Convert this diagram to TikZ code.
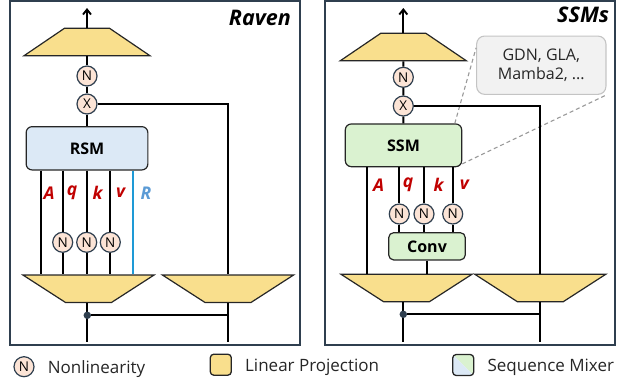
\documentclass[tikz,border=0pt]{standalone}
\usepackage{fontspec}
\setmainfont{Open Sans}
\usetikzlibrary{arrows.meta,positioning,calc,shapes.geometric}
\definecolor{Edge}{HTML}{2F3F4F}
\definecolor{Ink}{HTML}{262626}
\definecolor{Gold}{HTML}{F9DF8D}
\definecolor{Peach}{HTML}{FCE4D6}
\definecolor{RsmFill}{HTML}{DCE9F6}
\definecolor{SsmFill}{HTML}{DAF2D0}
\definecolor{Gate}{HTML}{C00000}
\definecolor{Retain}{HTML}{5B9BD5}
\definecolor{RetainLine}{HTML}{1E9AD6}
\definecolor{NoteFill}{HTML}{F2F2F2}
\definecolor{NoteEdge}{HTML}{C4C4C4}
\tikzset{
  panel/.style={draw=Edge,line width=1.5pt},
  wire/.style={draw=black,line width=1.9pt},
  proj/.style={trapezium,trapezium angle=48,trapezium stretches=true,draw=Ink,fill=Gold,line width=1.2pt,minimum width=126pt,minimum height=27.5pt,inner sep=1pt},
  projdown/.style={proj,trapezium angle=47,minimum width=131pt,shape border rotate=180},
  nl/.style={circle,draw=Edge,fill=Peach,line width=1.2pt,minimum size=20pt,inner sep=0pt,font=\fontsize{13.5}{14}\selectfont},
  mixer/.style={draw=Ink,rounded corners=6pt,line width=1.2pt,font=\fontsize{16}{18}\selectfont\bfseries},
  lbl/.style={font=\fontsize{17.5}{18}\selectfont\bfseries\itshape,text=Gate,inner sep=0pt},
  title/.style={font=\fontsize{21.5}{24}\selectfont\bfseries\itshape,anchor=east,inner sep=0pt},
  note/.style={draw=NoteEdge,fill=NoteFill,rounded corners=8pt,line width=1.1pt,align=center,text=Ink,font=\fontsize{16}{19.5}\selectfont},
  callout/.style={draw=black!40,line width=1.1pt,dash pattern=on 4pt off 3pt},
  joint/.style={circle,fill=Edge,inner sep=0pt,minimum size=7.5pt},
  legbox/.style={draw=Ink,line width=1.3pt,rounded corners=3.5pt,minimum width=21pt,minimum height=21pt,inner sep=0pt},
  legend/.style={font=\fontsize{17}{20}\selectfont,inner sep=0pt,text=Ink,yshift=-2.5pt},
  up/.style={wire,-{Straight Barb[length=5pt,width=8pt]}}
}
\begin{document}
\begin{tikzpicture}[x=1pt,y=-1pt]
\useasboundingbox (0,0) rectangle (632,381);

% Raven block
\draw[panel] (10,1) rectangle (300,345);
\node[title] (ravenT) at (291,17.5) {Raven};
\node[proj] (outL) at (87,42) {};
\coordinate (topL) at (87,8);
\node[nl] (nL) at (87,76) {N};
\node[nl] (xL) at (87,104) {X};
\node[mixer,fill=RsmFill,minimum width=121.7pt,minimum height=43.3pt] (rsm) at (87,148.3) {RSM};
\node[projdown] (projL) at (88.5,288.8) {};
\node[projdown] (gateL) at (228,288.8) {};
\draw[up] (outL.north) -- (topL);
\draw[wire] (outL) -- (nL) -- (xL) -- (rsm);
\draw[wire] (xL) -| (gateL);
\foreach \nm/\x in {A/40.7,q/62.7,k/86.7,v/110.3,R/133.3}
  \coordinate (w\nm L) at (\x,170);
\draw[wire] (rsm.south -| wAL) -- (wAL |- projL.north);
\draw[wire,draw=RetainLine] (rsm.south -| wRL) -- (wRL |- projL.north);
\foreach \nm in {q,k,v}{
  \node[nl] (n\nm L) at (w\nm L |- 0,242.3) {N};
  \draw[wire] (rsm.south -| n\nm L) -- (n\nm L) -- (n\nm L |- projL.north);
}
\node[lbl] (aL) at (49.2,193) {A};
\node[lbl] (qL) at (72,193) {q};
\node[lbl] (kL) at (97.5,193) {k};
\node[lbl] (vL) at (120.5,193) {v};
\node[lbl,text=Retain] (rL) at (146,193) {R};
\coordinate (inL) at (87.3,341.7);
\draw[wire] (inL) -- (inL |- projL.south);
\draw[wire] (gateL.south) -- (gateL.south |- inL);
\node[joint] (jL) at (87.3,315.3) {};
\draw[wire] (jL) -- (jL -| gateL);

% SSM block
\draw[panel] (325,1) rectangle (615,345);
\node[title] (ssmT) at (609.3,15.3) {SSMs};
\node[proj] (outR) at (403.3,47) {};
\coordinate (topR) at (403.3,8);
\node[nl] (nR) at (403.3,77.3) {N};
\node[nl] (xR) at (403.3,106) {X};
\node[mixer,fill=SsmFill,minimum width=116.4pt,minimum height=42.7pt] (ssm) at (403.5,145.3) {SSM};
\node[note,minimum width=129.3pt,minimum height=58.3pt] (gdn) at (541.3,65.2) {GDN, GLA,\\Mamba2, ...};
\draw[callout] ($(ssm.north east)+(-7.5,0)$) -- ($(gdn.north west)+(0,12.3)$);
\draw[callout] ($(ssm.south east)+(0,-3.4)$) -- (gdn.south east);
\node[projdown] (projR) at (406.5,288) {};
\node[projdown] (gateR) at (540.3,288) {};
\node[mixer,fill=SsmFill,minimum width=76.6pt,minimum height=27.3pt,rounded corners=5pt] (conv) at (427,246.3) {Conv};
\draw[up] (outR.north) -- (topR);
\draw[wire] (outR) -- (nR) -- (xR) -- (ssm);
\draw[wire] (xR) -| (gateR);
\foreach \nm/\x in {A/367,q/399.3,k/424,v/452.7}
  \coordinate (w\nm R) at (\x,166.7);
\draw[wire] (ssm.south -| wAR) -- (wAR |- projR.north);
\foreach \nm in {q,k,v}{
  \node[nl] (n\nm R) at (w\nm R |- 0,214) {N};
  \draw[wire] (ssm.south -| n\nm R) -- (n\nm R) -- (n\nm R |- conv.north);
}
\draw[wire] (conv) -- (conv |- projR.north);
\node[lbl] (aR) at (378.5,185) {A};
\node[lbl] (qR) at (408,185) {q};
\node[lbl] (kR) at (438.5,185) {k};
\node[lbl] (vR) at (464.3,185) {v};
\coordinate (inR) at (403.3,341.7);
\draw[wire] (inR) -- (inR |- projR.south);
\draw[wire] (gateR.south) -- (gateR.south |- inR);
\node[joint] (jR) at (403.3,314.3) {};
\draw[wire] (jR) -- (jR -| gateR);

% legend
\node[nl] (legN) at (24,366.7) {N};
\node[legend,right=13pt of legN] (legNtxt) {Nonlinearity};
\node[legbox,fill=Gold] (legP) at (220.8,364.7) {};
\node[legend,right=13pt of legP] (legPtxt) {Linear Projection};
\node[legbox,path picture={
    \fill[SsmFill] (path picture bounding box.north west) -- (path picture bounding box.north east) -- (path picture bounding box.south east) -- cycle;
    \fill[RsmFill] (path picture bounding box.north west) -- (path picture bounding box.south west) -- (path picture bounding box.south east) -- cycle;
  }] (legM) at (463.2,365) {};
\node[legend,right=13pt of legM] (legMtxt) {Sequence Mixer};
\end{tikzpicture}
\end{document}
